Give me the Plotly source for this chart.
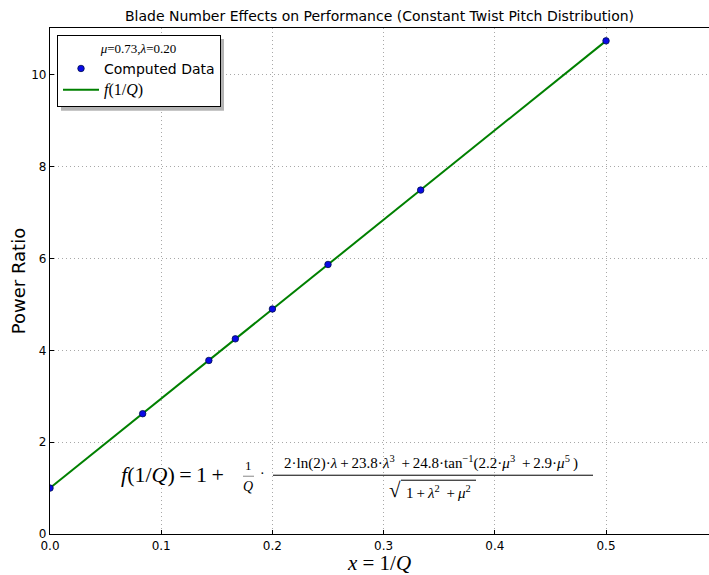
import plotly.graph_objects as go

# ---- data ----
x_data = [0.0, 1/12, 1/7, 1/6, 1/5, 1/4, 1/3, 1/2]
y_data = [1.00, 2.62, 3.78, 4.25, 4.90, 5.87, 7.49, 10.74]
x_fit = [0.0, 1/12, 1/7, 1/6, 1/5, 1/4, 1/3, 1/2]
y_fit = [1.00, 2.62, 3.78, 4.25, 4.90, 5.87, 7.49, 10.74]
x_ticks = [0.0, 0.1, 0.2, 0.3, 0.4, 0.5]
y_ticks = [0, 2, 4, 6, 8, 10]

W, H = 709, 575
ML, MR, MT, MB = 50, 0, 28, 39
XR = [0, 0.5926]
YR = [0, 11.02]

def px(p):
    return XR[0] + (p - ML) / (W - ML - MR) * (XR[1] - XR[0])

def py(p):
    return YR[0] + (H - MB - p) / (H - MT - MB) * (YR[1] - YR[0])

def ppx(p):
    return (p - ML) / (W - ML - MR)

def ppy(p):
    return (H - MB - p) / (H - MT - MB)

serif = "Liberation Serif, DejaVu Serif, serif"
sans = "DejaVu Sans, sans-serif"
ts = "\u2009"

fig = go.Figure()
fig.add_trace(go.Scatter(
    x=x_fit, y=y_fit, mode="lines",
    name="<span style='font-family:Liberation Serif;font-size:16px'><i>f</i>(1/<i>Q</i>)</span>",
    line=dict(color="#008000", width=2),
))
fig.add_trace(go.Scatter(
    x=x_data, y=y_data, mode="markers", name="Computed Data",
    marker=dict(color="#0a0ae6", size=6.5, line=dict(color="#00104a", width=0.8)),
))

ann = []
def A(x, y, text, size, family=serif, xanchor="center", yanchor="middle"):
    ann.append(dict(x=x, y=y, xref="x", yref="y", text=text, showarrow=False,
                    font=dict(size=size, family=family, color="black"),
                    xanchor=xanchor, yanchor=yanchor))

A(px(226), py(476), f"<i>f</i>(1/<i>Q</i>){ts}={ts}1{ts}+", 22, xanchor="right")
A(px(248), py(467), "1", 13)
A(px(248), py(488), "<i>Q</i>", 14)
A(px(262), py(475), "·", 14)
A(px(431), py(464),
  f"2·ln(2)·<i>λ</i>{ts}+{ts}23.8·<i>λ</i><sup>3</sup>{ts} +{ts}24.8·tan<sup>−1</sup>(2.2·<i>μ</i><sup>3</sup>{ts} +{ts}2.9·<i>μ</i><sup>5</sup>{ts})", 15)
A(px(395), py(492), "√", 21)
A(px(438), py(494), f"1{ts}+{ts}<i>λ</i><sup>2</sup>{ts} +{ts}<i>μ</i><sup>2</sup>", 15)

shapes = [
    dict(type="line", xref="x", yref="y", x0=px(273), x1=px(593), y0=py(477), y1=py(477),
         line=dict(color="black", width=1)),
    dict(type="line", xref="x", yref="y", x0=px(243), x1=px(254), y0=py(478), y1=py(478),
         line=dict(color="#555555", width=0.7)),
    dict(type="line", xref="x", yref="y", x0=px(401), x1=px(476), y0=py(482), y1=py(482),
         line=dict(color="black", width=1)),
    # legend shadow
    dict(type="rect", xref="paper", yref="paper", x0=ppx(61), x1=ppx(224), y0=ppy(111), y1=ppy(39),
         line=dict(width=0), fillcolor="#b4b4b4", layer="above"),
]

grid = dict(showgrid=True, gridcolor="#a8a8a8", griddash="1px,3px", gridwidth=1, zeroline=False)

fig.update_layout(
    width=W, height=H,
    margin=dict(l=ML, r=MR, t=MT, b=MB),
    paper_bgcolor="white", plot_bgcolor="white",
    title=dict(text="Blade Number Effects on Performance (Constant Twist Pitch Distribution)",
               x=0.5, xref="paper", y=1 - 16 / H, yref="container", yanchor="middle",
               font=dict(family=sans, size=14, color="black")),
    xaxis=dict(range=XR, tickvals=x_ticks, tickformat=".1f", ticks="inside", ticklen=4,
               tickcolor="black", showline=True, linecolor="black", linewidth=1.2, mirror=True,
               tickfont=dict(family=sans, size=12, color="black"),
               title=dict(text="<i>x</i> = 1/<i>Q</i>", standoff=8,
                          font=dict(family=serif, size=21, color="black")), **grid),
    yaxis=dict(range=YR, tickvals=y_ticks, ticks="inside", ticklen=4,
               tickcolor="black", showline=True, linecolor="black", linewidth=1.2, mirror=False,
               tickfont=dict(family=sans, size=12, color="black"),
               title=dict(text="Power Ratio", standoff=0,
                          font=dict(family=sans, size=18, color="black")), **grid),
    legend=dict(x=ppx(57), y=ppy(35), xanchor="left", yanchor="top",
                bgcolor="white", bordercolor="black", borderwidth=1,
                font=dict(family=sans, size=14, color="black"),
                title=dict(text="<i>μ</i>=0.73,<i>λ</i>=0.20", side="top center",
                           font=dict(family=serif, size=13, color="black")),
                traceorder="reversed", tracegroupgap=0, itemwidth=36),
    annotations=ann,
    shapes=shapes,
)

fig.write_html("out.html")
